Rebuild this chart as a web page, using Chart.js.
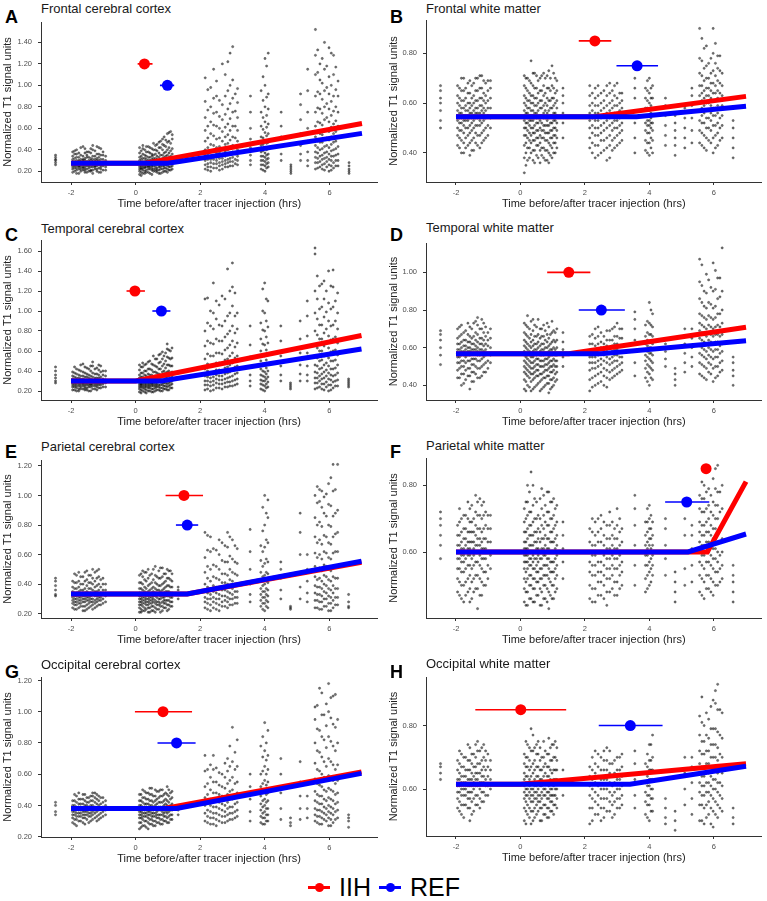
<!DOCTYPE html>
<html lang="en">
<head>
<meta charset="UTF-8">
<title>Normalized T1 signal before/after tracer injection</title>
<script src="https://cdn.jsdelivr.net/npm/chart.js@4.4.0/dist/chart.umd.min.js"></script>
<style>
  body { margin: 0; background: #fff; font-family: 'Liberation Sans', Arial, sans-serif; }
  #page { position: relative; width: 767px; height: 901px; overflow: hidden; }
  canvas { position: absolute; }
  .letter { position: absolute; font-weight: bold; font-size: 18px; line-height: 18px; color: #000; }
  .title { position: absolute; font-size: 13px; line-height: 13px; color: #1a1a1a; white-space: nowrap; }
  .legend-text { position: absolute; font-size: 25px; line-height: 25px; color: #000; }
  .key { position: absolute; width: 22px; height: 3px; }
  .key::after { content: ''; position: absolute; left: 6.5px; top: -3px; width: 9px; height: 9px; border-radius: 50%; background: inherit; }
</style>
</head>
<body>
<div id="page">
  <div class="key" style="left:308px; top:885.5px; background:#ff0000;"></div>
  <div class="legend-text" style="left:339px; top:875px;">IIH</div>
  <div class="key" style="left:379px; top:885.5px; background:#0000ff;"></div>
  <div class="legend-text" style="left:410px; top:875px;">REF</div>
</div>

<script>
// scan times (hrs), one column of values per time
const scanTimes = [-2.48,
  -1.95, -1.83, -1.70, -1.57, -1.45, -1.33, -1.20, -1.08, -0.93,
  0.12, 0.22, 0.33, 0.44, 0.55, 0.66, 0.77, 0.88, 0.98, 1.08, 1.32,
  2.15, 2.32, 2.50, 2.68, 2.85, 3.00, 3.15, 3.55,
  3.88, 4.00, 4.10, 4.50, 4.80, 5.10, 5.32,
  5.56, 5.70, 5.84, 5.98, 6.12, 6.26, 6.60];
// second set of scan times inside the busy sessions
const scanTimes2 = [-1.89, -1.76, -1.63, -1.51, -1.39, -1.26, -1.14, -1.01,
  0.17, 0.28, 0.39, 0.50, 0.61, 0.72, 0.83, 0.93, 1.03, 1.13,
  2.23, 2.41, 2.59, 2.77, 2.92, 3.08,
  3.94, 4.05,
  5.63, 5.77, 5.91, 6.05, 6.19];

// signal values per scan time, in hundredths of a T1 unit
const frontalCortexY = [
  [26,28,30,31,33,35],
  [19,22,24,26,27,29,31,34,38], [18,21,23,25,27,28,30,33,36,40], [20,22,24,26,27,29,31,35,42],
  [19,21,23,25,27,28,30,32,37,41], [20,23,25,26,28,30,33,38], [18,21,24,26,27,29,31,34,40,44],
  [20,22,25,27,28,30,32,36,43], [19,22,24,26,28,31,35,41], [21,24,27,30,34],
  [17,20,22,24,26,28,30,33,37,42], [18,21,23,25,27,29,32,36,41,44], [19,21,24,26,27,29,31,34,38,43],
  [18,22,24,26,28,30,33,37,42], [20,22,25,27,28,30,32,35,40,46], [19,21,23,26,28,31,34,39,45],
  [18,22,24,26,29,31,35,42,48], [20,23,25,27,30,33,37,44,52], [19,22,25,28,31,35,40,47,55],
  [21,24,27,30,34,39,46,57], [],
  [22,26,30,35,40,48,58,70,85,107], [20,24,28,31,34,38,45,55,66,80,98], [23,27,30,33,37,42,50,62,75,90,104],
  [22,26,29,32,36,41,48,57,68,82,120], [24,28,31,35,40,46,54,64,78,95,122], [25,29,33,38,44,52,62,75,88,105,136],
  [26,30,34,40,48,58,70,84,97], [26,30,35,42,50,60,75,90],
  [22,26,30,34,38,44,52,62,75,95], [20,25,29,33,37,42,48,56,66,80,100,125], [24,28,32,36,41,47,55,64,78,92,130],
  [30,36,44,52,62,75], [18,20,22,24,26], [30,36,44,55,68,82,92], [25,30,38,48,60,75,95,115],
  [22,28,33,38,44,52,62,75,90,110,128,152], [24,29,34,40,47,55,65,78,92,105,120], [21,27,32,37,43,50,58,68,80,95,115,140],
  [20,26,31,36,42,49,57,66,78,92,108,135], [23,28,34,40,47,55,64,76,90,110,128], [25,30,36,43,52,62,75,90,104],
  [18,20,22,25,28]];
const frontalCortexY2 = [
  [20,23,25,26,28,29,32,36,39], [18,22,24,25,27,29,30,33,37], [21,23,24,26,28,30,31,34,43], [19,22,25,26,27,29,33,35,38],
  [20,21,24,27,28,30,32,37,41], [22,24,25,27,29,31,34,39], [19,23,26,28,30,33,36,42], [21,25,28,31,35,38],
  [16,19,22,23,25,27,28,31,34,39], [18,20,23,24,26,28,29,32,35,40], [19,22,24,25,27,28,30,33,38,43],
  [17,21,23,25,26,28,31,34,36,41], [20,22,24,26,28,29,32,36,40,44], [18,21,24,26,27,30,33,37,42,47],
  [19,22,25,27,29,32,35,40,45,50], [20,23,26,28,31,34,38,43,49], [21,24,27,29,33,37,42,48,56], [22,25,28,32,36,41,50,54],
  [21,24,27,31,36,42,51,62,77,96], [23,27,31,34,39,44,53,63,74,88,115], [21,25,28,32,37,43,51,60,71,86],
  [24,27,30,34,38,45,52,61,73,90,110], [25,29,32,37,42,49,58,69,83,100,130], [27,31,36,43,51,62,76,92],
  [21,26,30,34,39,45,51,59,70,86,108], [23,27,31,35,40,46,53,61,72,89,118],
  [23,28,32,37,42,48,56,66,79,94,112,133], [22,26,31,35,41,47,54,63,74,87,102,125], [24,29,33,38,44,51,59,70,83,98,118],
  [21,25,30,34,39,45,52,61,72,85,100,130], [25,30,35,41,48,57,67,80,96,117]];

const frontalWhiteY = [
  [50,53,57,60,62,65,67],
  [43,47,50,53,55,57,60,63,67], [40,45,49,52,54,56,58,61,65,70], [42,46,50,53,55,57,59,62,66],
  [39,44,48,51,54,56,58,60,64,69], [41,46,50,53,55,57,60,63,68], [43,47,51,54,56,58,61,65,70],
  [44,48,52,55,57,59,62,66,71], [46,50,54,57,60,63,68], [50,54,58,62,66,69],
  [32,38,43,47,50,53,55,57,60,63,67,71], [37,42,46,49,52,54,56,58,61,65,70], [40,44,47,50,53,55,57,60,63,68,77],
  [36,41,45,48,51,54,56,59,62,66,72], [38,43,46,49,52,54,57,60,64,69], [39,42,46,49,52,55,58,61,65,71],
  [37,41,45,48,51,54,57,60,64,70], [36,40,44,48,51,54,57,61,66,73], [38,42,46,49,52,55,58,62,67,75],
  [40,44,47,50,53,56,60,64,70], [46,52,56,60,63,66],
  [42,46,50,53,56,59,63,67], [38,43,47,50,53,56,59,62,66], [40,45,48,51,54,57,60,64],
  [37,42,46,50,53,56,59,63,67], [41,45,49,52,55,58,61,65], [43,47,50,53,56,59,62,68],
  [45,49,52,55,58,61,64], [40,46,52,57,62,66,70],
  [41,45,49,52,55,58,62,66], [39,44,48,51,53,55,57,60,64,70], [40,45,49,52,55,58,62,67],
  [43,47,51,55,59,62], [39,43,46,49,52,55], [42,46,50,54,58], [44,49,54,59,63,66],
  [44,49,53,57,60,63,67,72,78,90], [42,47,52,56,59,62,65,69,74,82], [45,50,54,57,60,63,66,70,76],
  [40,46,51,55,58,61,64,68,73,80,90], [43,48,52,56,59,62,65,69,74,79], [46,51,55,59,63,67,72],
  [38,42,46,50,53]];
const frontalWhiteY2 = [
  [42,46,49,52,54,56,59,62,66], [40,44,48,51,53,55,58,61,65,70], [43,47,50,53,55,57,60,64,68], [41,45,49,52,54,56,59,62,67],
  [44,48,51,54,56,58,61,65,70], [42,47,51,53,56,59,62,66,71], [45,49,53,56,58,61,64,69], [47,51,55,58,61,65,69],
  [35,40,44,47,50,52,54,56,59,62,66,70], [38,42,45,48,51,53,55,58,61,64,69], [37,41,45,48,50,53,55,57,60,63,67,72],
  [39,43,46,49,52,54,56,59,62,66,71], [36,41,44,47,50,53,55,58,61,65,70], [38,42,46,49,51,54,56,59,63,67,72],
  [37,41,45,48,51,53,56,59,62,66,71], [39,43,46,49,52,55,58,61,65,70], [40,44,47,50,53,56,59,62,66,72], [42,46,49,52,55,58,61,65,69],
  [40,44,48,51,54,57,60,64], [39,43,47,50,53,56,59,63,67], [41,45,49,52,55,58,61,65],
  [38,43,47,51,54,57,60,64,68], [42,46,50,53,56,59,63,67], [44,48,51,54,57,60,64],
  [40,44,48,51,53,55,58,61,65,69], [42,46,50,52,54,56,59,62,66],
  [43,48,52,55,58,61,64,67,71,77,86], [41,46,50,54,57,60,63,66,70,75,83], [44,49,53,56,59,62,65,68,72,78],
  [42,47,51,55,58,61,64,67,71,76,84], [45,50,54,58,61,64,68,73,79]];

const temporalCortexY = [
  [28,30,33,36,40,44],
  [21,24,26,28,30,32,35,39], [20,23,25,27,29,31,33,37,42], [22,24,26,28,30,32,35,40,46],
  [21,23,25,27,29,31,34,38,44], [20,24,26,28,30,33,36,42], [22,25,27,29,31,34,38,45,49],
  [21,24,26,28,30,33,37,43], [23,26,28,31,34,39,45], [24,28,31,35,40],
  [19,22,24,26,28,30,33,36,41,46], [20,23,25,27,29,31,34,38,44,48], [18,21,24,26,28,30,32,35,40,47],
  [20,23,25,27,29,32,36,42,50], [19,22,25,27,29,31,34,39,46,55], [21,24,26,28,31,34,38,44,52],
  [20,23,26,29,32,36,42,49,57], [22,25,28,31,35,40,47,55], [21,24,27,30,34,39,46,54,62,67],
  [23,26,29,33,38,45,52,60], [],
  [21,26,30,35,42,52,65,80,112], [20,25,29,33,38,45,55,68,85,100], [23,28,32,36,41,48,58,72,92,110],
  [22,27,31,35,40,47,57,70,85,115], [24,29,33,38,44,52,63,77,95,142], [25,30,35,41,48,58,70,85,105,124,148],
  [27,32,38,45,55,68,82,98], [25,30,36,44,54,66,85],
  [22,27,31,36,42,50,60,72,88], [20,25,30,34,39,46,55,66,80,98,128], [24,29,34,40,47,56,68,84,110],
  [30,36,45,55,70,85], [22,24,26,28], [30,37,46,58,72,90], [30,36,45,58,75,95,110],
  [22,28,33,39,46,55,66,80,98,120,157,163], [24,30,35,42,50,60,72,86,102,125], [21,27,33,39,46,55,65,78,94,112,130],
  [20,26,32,38,45,53,63,75,90,108,140], [23,29,35,42,50,60,72,86,104,124,141], [25,31,38,46,56,68,82,98,118],
  [24,26,28,30,32]];
const temporalCortexY2 = [
  [21,24,26,28,29,31,34,38,44], [20,22,25,27,29,30,33,36,41], [22,25,27,28,30,32,35,39,47], [21,23,26,28,29,31,34,37,43],
  [20,24,26,27,29,32,35,40,45], [22,25,27,29,31,33,37,42], [23,26,28,30,33,36,41,46], [24,27,29,32,36,40],
  [18,21,24,26,27,29,31,34,38,44], [19,22,24,26,28,30,32,36,40,46], [20,23,25,27,29,31,33,37,42,49],
  [19,22,25,27,28,30,33,36,41,47], [20,23,25,27,30,32,35,39,45,52], [21,24,26,29,31,34,37,42,48,56],
  [20,23,26,28,31,35,39,45,52,59], [22,25,28,31,34,38,43,50,58], [21,25,28,31,35,40,46,53,61], [23,27,30,34,39,45,53,63],
  [22,26,30,34,40,47,57,70,88,113], [21,26,30,34,39,46,55,67,82,98,128], [23,27,31,35,41,48,58,70,86,106],
  [24,28,32,37,43,51,61,74,90,112], [25,29,34,39,46,55,66,80,98,120], [26,31,37,44,53,64,78,95,118],
  [21,26,30,35,40,47,56,67,81,100,122], [23,27,32,37,43,51,61,74,90,112],
  [23,28,33,38,45,53,63,76,92,112,135], [22,27,32,37,43,51,60,72,86,104,127], [24,29,35,41,48,57,68,82,99,120],
  [21,26,31,36,42,50,59,71,85,102,125], [25,30,36,43,51,61,74,90,110]];

const temporalWhiteY = [
  [51,56,60,64,67,69],
  [44,48,52,55,57,59,62,65,70], [40,46,50,53,56,58,60,63,67,72], [43,48,52,55,57,59,61,64,69],
  [38,45,49,53,56,58,60,63,66,71], [42,47,51,54,57,59,62,66,73], [44,49,53,56,58,60,63,67,72,76],
  [45,50,54,57,59,62,65,70,75], [47,52,56,59,62,66,71], [52,56,60,65,70],
  [38,43,47,50,53,56,58,61,64,68,73], [40,45,48,51,54,56,59,62,66,71,77], [37,42,46,49,52,55,57,60,63,67,74],
  [39,44,47,50,53,56,59,62,66,72], [41,45,48,51,54,57,60,63,67,75], [38,43,46,50,53,56,59,62,66,70],
  [40,44,48,51,54,57,60,64,69], [36,41,45,49,52,55,58,61,65,71], [39,43,47,50,53,56,59,63,68,74],
  [42,46,50,53,56,59,63,68], [50,55,59,63,68],
  [37,43,48,52,55,58,62,66], [40,45,49,52,55,58,61,65,70], [42,47,51,54,57,60,63,68],
  [39,44,48,52,55,58,61,64,69], [44,48,52,55,58,61,64,70], [46,50,53,56,59,62,66,73],
  [48,52,55,58,61,65,70], [45,52,58,64,70,75,79],
  [44,49,53,56,59,62,66,72], [40,46,50,54,57,60,63,67,73,84], [43,48,52,56,59,62,66,71,78],
  [50,54,58,62], [40,43,46,49], [47,52,57,62,66,70], [50,55,60,65,70],
  [46,52,57,61,65,69,73,78,86,95,107], [44,50,55,59,63,67,71,76,82,90], [47,52,56,60,64,68,72,77,84,96],
  [42,49,54,58,62,66,70,75,81,90,105], [45,50,55,59,63,67,72,78,86,97], [48,53,58,62,67,73,80,90,113],
  [40,45,48,52,55]];
const temporalWhiteY2 = [
  [44,49,52,55,57,59,62,66,71], [41,46,50,53,56,58,61,64,68], [45,49,53,56,58,60,63,67,73], [42,47,51,54,57,59,62,65,70],
  [46,50,54,57,59,61,64,68,74], [44,49,53,56,59,62,65,70], [47,51,55,58,61,64,68,73], [49,53,57,61,64,68],
  [37,42,46,49,52,55,57,60,63,67,72], [39,44,47,50,53,56,58,61,65,70], [38,43,46,49,52,55,58,61,64,69,75],
  [40,45,48,51,54,56,59,62,66,71], [37,42,46,50,53,56,58,61,65,70], [39,44,47,50,53,56,59,62,66,72],
  [41,45,48,51,54,57,60,63,67,73], [38,43,47,50,53,56,59,62,67], [40,44,48,51,54,57,60,64,69], [43,47,50,53,56,60,64,70],
  [39,44,49,52,55,58,62,67], [41,46,50,53,56,59,62,66,71], [40,45,49,53,56,59,62,66],
  [43,47,51,54,57,60,64,69], [45,49,53,56,59,62,66,71], [47,51,55,58,61,65,70],
  [42,47,51,55,58,61,64,68,74], [44,49,53,57,60,63,67,72,80],
  [45,51,56,60,64,68,72,77,84,93,104], [43,49,54,58,62,66,70,75,81,89,99], [46,51,55,59,63,67,71,76,83,92],
  [44,50,55,59,63,67,71,76,82,91,101], [47,52,57,61,66,71,78,87,97]];

const parietalCortexY = [
  [32,33,36,39,42,44],
  [24,27,29,31,33,35,38,42], [23,26,28,30,32,34,37,41,46], [25,27,29,31,33,36,40,45],
  [22,25,28,30,32,34,37,42,48], [24,27,29,31,34,37,41,46], [23,26,28,30,33,36,40,44,50],
  [25,28,30,32,35,39,44,49], [26,29,31,34,38,43], [28,32,36,40],
  [21,24,26,28,30,32,34,37,41,46], [22,25,27,29,31,33,36,40,45,49], [23,26,28,30,32,34,37,42,48],
  [21,24,27,29,31,33,36,40,46], [22,25,28,30,32,35,38,43,50], [23,26,28,31,33,36,40,45],
  [21,25,27,30,32,35,39,44,51], [24,27,29,31,34,37,41,47], [22,26,29,32,35,39,44,50],
  [25,28,31,34,38,43,49], [30,33,36,38],
  [24,28,31,35,40,48,58,75], [22,26,30,33,37,42,50,62,72], [23,27,30,34,38,44,52,63],
  [25,28,32,36,41,47,56,68], [24,28,31,35,40,46,55,65,75], [26,30,33,37,42,48,57,70],
  [27,31,35,40,46,54,64], [28,33,40,50,62,77],
  [25,29,33,37,42,48,56,66], [22,27,31,35,40,46,54,65,80,100], [24,28,32,36,41,47,55,68,85,97],
  [30,36,44,50,55], [23,24,25], [30,38,48,60,75,88], [28,34,42,50,60],
  [24,29,34,39,45,52,61,72,85,100], [23,28,33,38,44,51,60,70,82,96,104], [25,30,35,40,46,53,62,73,88,99],
  [22,27,32,37,43,50,58,68,80,94,108], [24,29,34,39,45,52,61,72,86,103,121], [26,31,37,44,52,62,75,90,121],
  [24,25,28,33]];
const parietalCortexY2 = [
  [23,26,28,30,32,34,37,41,47], [24,27,29,31,33,35,38,42,48], [22,25,28,30,32,34,36,40,45], [23,26,29,31,33,35,39,43,49],
  [25,28,30,32,34,37,41,46], [24,27,29,32,35,38,42,48], [26,29,31,33,36,40,45,50], [27,30,33,36,40,44],
  [21,23,26,28,30,32,34,37,41,47], [22,24,27,29,31,33,35,38,43,48], [21,24,26,28,30,32,35,39,44,50],
  [22,25,27,29,31,34,37,41,47], [21,24,27,29,32,34,37,41,46,52], [23,26,28,30,33,36,39,44,49],
  [22,25,28,31,33,36,40,45,51], [24,27,29,32,35,38,42,47], [23,26,29,32,35,39,44,49], [25,28,31,34,38,42,47],
  [23,27,30,34,38,44,52,63,73], [24,28,31,35,39,45,53,64], [22,26,30,33,37,43,50,60,70],
  [25,29,32,36,41,47,55,66], [26,30,34,38,43,50,59,72], [27,31,35,40,47,55,66],
  [23,27,31,35,39,45,52,62,76,92], [25,29,33,37,42,48,57,70,88],
  [24,29,33,38,43,50,58,68,80,95,106], [23,28,32,37,42,49,57,67,79,92,103], [25,30,34,39,45,52,61,72,86,101],
  [22,27,31,36,42,49,57,67,79,93,112], [26,31,37,44,52,62,74,88,104]];

const parietalWhiteY = [
  [58,62,65,68,70,72],
  [48,52,55,58,60,62,65,68], [46,50,54,57,59,61,63,66,70], [47,51,55,58,60,62,64,67,71],
  [45,49,53,56,59,61,63,66,69,73], [48,52,56,59,61,63,66,70], [43,49,53,57,60,62,64,67,71,75],
  [47,51,55,58,61,63,66,70,74], [50,54,58,61,64,68,72], [55,59,63,67,71],
  [45,49,52,55,57,59,61,63,66,69,73], [44,48,52,55,57,59,61,64,67,71,75,80], [46,50,53,56,58,60,62,65,68,72,84],
  [45,49,52,55,58,60,63,66,70,76], [47,51,54,57,59,61,64,67,71], [44,48,52,55,58,61,64,68,73,79],
  [46,50,53,56,59,62,65,69,74], [43,48,52,55,58,61,64,68,72,78], [46,50,54,57,60,63,66,70,75],
  [48,52,55,58,61,64,68,73], [52,57,61,65,69],
  [46,50,54,57,60,63,67], [45,49,53,56,59,62,65,69], [47,51,54,57,60,63,67,71],
  [44,48,52,55,58,61,64,68], [49,53,56,59,62,65,69], [47,51,55,58,61,64,68,73],
  [50,54,57,60,63,67], [50,56,62,68,73,77],
  [48,52,56,59,62,65,69], [50,54,57,60,62,64,67,70,74], [53,56,59,62,65,69],
  [53,58,62,67,70], [45,48,51,54], [50,55,60,65,70], [51,56,61,65,68],
  [48,53,57,60,63,66,69,73,77], [46,51,55,59,62,65,68,72,76,80], [49,53,57,60,63,66,70,74,79],
  [47,51,55,58,61,64,67,71,75,82], [50,54,57,60,63,66,70,74,78,86], [52,56,60,64,68,73,80],
  [45,48,51,53,56]];
const parietalWhiteY2 = [
  [47,51,55,58,60,62,65,69,73], [45,50,54,57,59,61,64,67,71], [48,52,56,59,61,63,66,70,75], [46,51,55,58,60,63,66,69,74],
  [49,53,57,60,62,65,68,72,77], [47,52,56,59,62,64,67,71,76], [50,54,58,61,64,67,71,75], [52,56,60,63,67,71],
  [44,48,51,54,57,59,61,63,66,70,75], [46,50,53,56,58,60,62,65,68,72,78], [45,49,52,55,57,59,62,65,69,74,80],
  [47,51,54,56,58,61,63,66,70,75], [44,49,52,55,58,60,63,66,70,76], [46,50,53,56,59,61,64,67,71,77],
  [45,49,53,56,58,61,64,68,72,78], [47,51,54,57,60,63,66,70,75], [46,50,54,57,60,63,67,71,76], [49,53,56,59,62,65,69,74],
  [45,49,53,56,59,62,66,70], [47,51,54,57,60,63,66,70], [46,50,53,56,59,62,65,69],
  [48,52,55,58,61,64,68,72], [47,51,55,58,61,64,67], [49,53,56,59,62,66,70],
  [49,53,56,59,61,63,66,69,73], [51,55,58,61,64,67,71],
  [47,52,56,59,62,65,68,72,76,81], [49,53,57,60,63,66,69,73,78,84], [48,52,56,59,62,65,68,72,77],
  [50,54,58,61,64,67,70,74,79,85], [51,55,59,63,67,72,78]];

const occipitalCortexY = [
  [34,36,40,42],
  [29,32,34,36,38,40,43], [27,31,33,35,37,39,42,46], [30,33,35,37,39,41,44],
  [28,32,34,36,38,40,43,47], [29,33,35,37,39,42,45], [31,34,36,38,40,43,46,48],
  [30,33,36,38,41,44,47], [32,35,38,41,45], [34,37,40,43],
  [25,29,32,34,36,38,40,43,47], [27,31,33,35,37,39,42,45,50], [26,30,33,35,37,39,41,44,48],
  [28,31,34,36,38,40,43,47,51], [27,30,33,35,37,39,42,46], [29,32,34,36,38,41,44,49],
  [28,31,34,37,39,42,46,50], [30,33,35,38,40,43,47], [29,32,35,37,40,43,47,52],
  [31,34,37,40,44,48], [34,37,40],
  [30,35,40,45,52,62,72], [28,32,36,40,44,50,58,66], [27,31,35,39,43,48,55,64],
  [29,33,37,41,46,52,60], [30,34,38,42,47,54,62,70], [31,35,39,44,50,58,68,90],
  [33,37,42,48,55,65,82], [30,36,44,52,60],
  [29,33,37,41,46,52,60,78], [28,32,36,40,44,49,56,65,75,93], [30,34,38,43,48,55,63,72,88],
  [31,38,48,60,70], [27,29,32], [31,38,46,55,68], [32,38,46,55],
  [30,34,38,43,49,57,67,80,95,103], [28,33,37,41,46,53,62,74,88,115], [31,35,39,44,50,58,68,82,98],
  [27,32,36,40,45,51,59,70,84,100,118], [29,34,38,43,49,56,66,78,92,110], [32,37,42,48,56,66,80,95],
  [26,30,32,34]];
const occipitalCortexY2 = [
  [28,31,34,36,38,40,43,47], [30,33,35,37,39,41,44,48], [29,32,34,36,38,41,44,47], [31,34,36,38,40,42,45],
  [30,33,35,37,40,43,46], [32,35,37,39,42,45,48], [31,34,37,40,43,46], [33,36,39,42,45],
  [26,29,32,34,36,38,40,43,47], [27,30,33,35,37,39,41,45,49], [25,29,32,34,36,38,41,44,48],
  [28,31,33,35,37,40,43,47,51], [27,30,33,35,38,40,43,46,50], [29,32,34,37,39,42,45,49],
  [28,31,34,36,39,42,46,50], [30,33,36,38,41,44,48], [29,33,36,39,42,46,50], [31,34,37,41,45,49],
  [29,33,37,42,47,54,63], [28,32,35,39,43,48,55,63,72], [30,34,38,42,47,53,61],
  [29,33,36,40,45,51,58,67], [31,35,39,44,49,56,65,78], [32,36,41,47,54,63,74],
  [28,32,35,39,43,48,54,62,71,84], [30,34,38,42,47,53,60,69,80],
  [29,33,37,42,47,54,63,75,89,104], [28,32,36,41,46,52,60,71,84,98,112], [30,34,38,43,49,56,65,77,91,105],
  [27,31,35,39,44,50,58,68,81,96,109], [31,36,41,47,54,63,75,90,111]];

const occipitalWhiteY = [
  [63,65,67,68],
  [54,57,59,61,63,66,69], [52,55,58,60,62,64,67,71], [55,58,60,62,64,66,70],
  [50,54,57,59,61,63,66,69,73], [53,57,60,62,64,67,71], [55,58,61,63,65,68,72,75],
  [56,59,62,64,66,69,73], [58,61,63,66,69,72], [60,63,66,69],
  [50,54,57,59,61,63,65,68,71], [52,55,58,60,62,64,67,70,74], [49,53,56,58,60,62,64,67,72,79],
  [51,54,57,59,61,63,66,69,73], [53,56,58,60,62,64,67,71,75], [50,54,57,59,61,63,66,70],
  [52,55,58,60,62,65,68,72], [51,54,57,59,61,64,67,71,76], [53,56,58,60,62,65,69,74],
  [55,58,60,63,66,70,75], [58,62,66],
  [49,54,58,61,64,67], [52,56,59,62,65,68,72], [50,54,57,60,63,66,70],
  [53,57,60,63,66,69,73], [51,55,58,61,64,68], [54,57,60,63,66,70],
  [55,58,61,64,67,71], [54,58,63,68,72],
  [52,56,59,62,65,68], [50,55,58,61,63,66,69,74], [53,57,60,63,66,70,77],
  [49,51,54,57], [47,50,53], [55,60,65,70], [52,57,62,67,70],
  [50,55,59,62,65,68,72,77,83], [49,54,58,61,64,67,71,75,80], [52,56,59,62,65,68,72,76,82],
  [48,53,57,60,63,66,70,74,79,88], [51,55,59,62,65,69,73,78,85,93], [53,57,61,65,70,76,84],
  [49,51,54]];
const occipitalWhiteY2 = [
  [53,56,59,61,63,65,68,72], [51,55,58,60,62,64,67,70], [54,57,59,61,63,66,69,74], [52,56,59,61,63,65,68,71],
  [55,58,61,63,65,67,70,74], [54,57,60,62,65,68,72], [56,59,62,64,67,70,74], [58,61,64,67,71],
  [49,53,56,58,60,62,64,67,70,75], [51,54,57,59,61,63,66,69,73], [50,53,56,58,60,62,65,68,72,77],
  [52,55,57,59,61,64,67,71,74], [50,54,56,58,61,63,66,69,73], [52,55,58,60,62,64,67,70,75],
  [51,54,57,59,62,64,67,71], [53,56,58,60,63,66,69,73], [52,55,58,61,63,66,70,74], [54,57,60,63,66,69,73],
  [50,54,57,60,63,66,70], [52,55,58,61,64,67,71], [51,54,57,60,63,66,69,72],
  [53,56,59,62,65,68,72], [52,56,59,62,65,69], [54,57,60,63,66,70],
  [51,55,58,61,64,67,71], [53,57,60,63,66,69,74],
  [50,55,58,61,64,67,71,75,81,89], [51,55,59,62,65,68,72,77,84], [49,54,58,61,64,67,70,74,79,86],
  [52,56,60,63,66,70,74,79,87,91], [54,58,62,66,71,77,85]];

const regionY = [frontalCortexY, frontalWhiteY, temporalCortexY, temporalWhiteY,
  parietalCortexY, parietalWhiteY, occipitalCortexY, occipitalWhiteY];
const regionY2 = [frontalCortexY2, frontalWhiteY2, temporalCortexY2, temporalWhiteY2,
  parietalCortexY2, parietalWhiteY2, occipitalCortexY2, occipitalWhiteY2];

const panelLetters = ['A', 'B', 'C', 'D', 'E', 'F', 'G', 'H'];
const panelTitles = ['Frontal cerebral cortex', 'Frontal white matter',
  'Temporal cerebral cortex', 'Temporal white matter',
  'Parietal cerebral cortex', 'Parietal white matter',
  'Occipital cerebral cortex', 'Occipital white matter'];

// fitted broken-stick lines: x of start, breakpoint, end and their y values
const iihFitX = [[-2, 0.3, 7], [-2, 2.3, 7], [-2, 0.0, 7], [-2, 1.5, 7], [-2, 1.6, 7], [-2, 5.8, 7], [-2, 0.9, 7], [-2, 0.0, 7]];
const iihFitY = [[0.275, 0.275, 0.645], [0.545, 0.545, 0.627], [0.30, 0.30, 0.755], [0.568, 0.568, 0.708],
  [0.333, 0.333, 0.548], [0.60, 0.60, 0.811], [0.38, 0.38, 0.615], [0.615, 0.615, 0.68]];
const refFitX = [[-2, 1.0, 7], [-2, 3.6, 7], [-2, 0.8, 7], [-2, 2.5, 7], [-2, 1.6, 7], [-2, 5.2, 7], [-2, 1.27, 7], [-2, 3.4, 7]];
const refFitY = [[0.275, 0.275, 0.553], [0.545, 0.545, 0.587], [0.30, 0.30, 0.62], [0.568, 0.568, 0.637],
  [0.333, 0.333, 0.555], [0.60, 0.60, 0.654], [0.38, 0.38, 0.605], [0.615, 0.615, 0.672]];

// breakpoint estimates with confidence interval (plotted at a fixed height)
const iihBreakX  = [0.27, 2.31, -0.02, 1.50, 1.50, 5.76, 0.85, 0.01];
const iihBreakLo = [0.06, 1.81, -0.28, 0.83, 0.93, 5.70, -0.02, -1.40];
const iihBreakHi = [0.52, 2.82, 0.29, 2.17, 2.09, 5.82, 1.75, 1.42];
const iihBreakY  = [1.20, 0.85, 1.20, 1.00, 1.00, 0.85, 1.00, 0.85];
const refBreakX  = [0.98, 3.62, 0.80, 2.51, 1.60, 5.16, 1.27, 3.41];
const refBreakLo = [0.75, 2.98, 0.52, 1.81, 1.25, 4.49, 0.68, 2.43];
const refBreakHi = [1.19, 4.27, 1.08, 3.24, 1.94, 5.86, 1.86, 4.41];
const refBreakY  = [1.00, 0.75, 1.00, 0.80, 0.80, 0.75, 0.80, 0.80];

const xTicks = [-2, 0, 2, 4, 6];
const yMin = [0.10, 0.283, 0.11, 0.322, 0.171, 0.402, 0.198, 0.452];
const yMax = [1.59, 0.934, 1.71, 1.156, 1.24, 0.882, 1.222, 0.953];
const yTicks = [[0.2, 0.4, 0.6, 0.8, 1.0, 1.2, 1.4], [0.4, 0.6, 0.8],
  [0.2, 0.4, 0.6, 0.8, 1.0, 1.2, 1.4, 1.6], [0.4, 0.6, 0.8, 1.0],
  [0.2, 0.4, 0.6, 0.8, 1.0, 1.2], [0.6, 0.8],
  [0.2, 0.4, 0.6, 0.8, 1.0, 1.2], [0.6, 0.8]];

// page layout (px)
const cellX = [0, 383, 0, 383, 0, 383, 0, 383];
const cellY = [0, 0, 215, 215, 430, 430, 645, 645];
const plotL = [41, 43, 41, 43, 41, 43, 41, 43];
const plotR = [378, 380, 377, 380, 377, 380, 377, 380];
const plotT = [22, 20, 25, 28, 30, 28, 32, 32];
const plotB = [182, 182, 185, 185, 188, 188, 192, 191];
const letterTop = [8, 8, 226, 226, 443, 443, 663, 663];
const titleTop = [2, 2, 222, 221, 440, 439, 658, 657];

const RED = '#ff0000', BLUE = '#0000ff', INK = '#333333';
Chart.defaults.font.family = "'Liberation Sans', Arial, sans-serif";

const page = document.getElementById('page');

function seg(xs, ys) {
  return xs.map((x, i) => ({ x: x, y: ys[i] }));
}

function addColumns(out, times, cols) {
  times.forEach((t, i) => {
    cols[i].forEach(v => out.push({ x: t, y: v / 100 }));
  });
}

for (let p = 0; p < 8; p++) {
  const left = cellX[p] === 0;
  const cellW = left ? 383 : 384;
  const H = plotB[p] + 30;

  const letter = document.createElement('div');
  letter.className = 'letter';
  letter.textContent = panelLetters[p];
  letter.style.left = (cellX[p] + (left ? 5 : 7)) + 'px';
  letter.style.top = letterTop[p] + 'px';
  page.appendChild(letter);

  const title = document.createElement('div');
  title.className = 'title';
  title.textContent = panelTitles[p];
  title.style.left = (cellX[p] + plotL[p]) + 'px';
  title.style.top = titleTop[p] + 'px';
  page.appendChild(title);

  const cv = document.createElement('canvas');
  cv.width = cellW;
  cv.height = H;
  cv.style.left = cellX[p] + 'px';
  cv.style.top = cellY[p] + 'px';
  page.appendChild(cv);

  const points = [];
  addColumns(points, scanTimes, regionY[p]);
  addColumns(points, scanTimes2, regionY2[p]);

  const line = (data, color, width, order) => ({
    data: data, showLine: true, borderColor: color, borderWidth: width,
    pointRadius: 0, borderCapStyle: 'butt', order: order
  });

  new Chart(cv, {
    type: 'scatter',
    data: {
      datasets: [
        { data: points, pointRadius: 1.15, backgroundColor: 'rgba(0,0,0,0.55)',
          borderColor: 'rgba(0,0,0,0.7)', borderWidth: 0.4, order: 6 },
        line(seg(iihFitX[p], iihFitY[p]), RED, 5, 5),
        line(seg(refFitX[p], refFitY[p]), BLUE, 5, 4),
        line([{ x: iihBreakLo[p], y: iihBreakY[p] }, { x: iihBreakHi[p], y: iihBreakY[p] }], RED, 1.6, 3),
        line([{ x: refBreakLo[p], y: refBreakY[p] }, { x: refBreakHi[p], y: refBreakY[p] }], BLUE, 1.6, 3),
        { data: [{ x: iihBreakX[p], y: iihBreakY[p] }], pointRadius: 5.5, backgroundColor: RED, borderWidth: 0, order: 1 },
        { data: [{ x: refBreakX[p], y: refBreakY[p] }], pointRadius: 5.5, backgroundColor: BLUE, borderWidth: 0, order: 1 }
      ]
    },
    options: {
      responsive: false,
      animation: false,
      events: [],
      layout: { padding: { top: plotT[p], right: cellW - plotR[p], left: 0, bottom: 0 } },
      plugins: { legend: { display: false }, tooltip: { enabled: false } },
      scales: {
        x: {
          type: 'linear', min: -2.93, max: 7.48,
          afterBuildTicks: s => { s.ticks = xTicks.map(v => ({ value: v })); },
          afterFit: s => { s.height = 30; },
          ticks: { font: { size: 7.5 }, color: '#4d4d4d', padding: 3, maxRotation: 0, callback: v => String(v) },
          title: { display: true, text: 'Time before/after tracer injection (hrs)', font: { size: 11 }, color: '#222', padding: { top: 0, bottom: 1 } },
          grid: { display: true, drawOnChartArea: false, drawTicks: true, tickLength: 3, color: INK },
          border: { display: true, color: INK, width: 1 }
        },
        y: {
          type: 'linear', min: yMin[p], max: yMax[p],
          afterBuildTicks: s => { s.ticks = yTicks[p].map(v => ({ value: v })); },
          afterFit: s => { s.width = plotL[p]; },
          ticks: { font: { size: 7.5 }, color: '#4d4d4d', padding: 6, callback: v => v.toFixed(2) },
          title: { display: true, text: 'Normalized T1 signal units', font: { size: 11 }, color: '#222', padding: { top: left ? 1 : 4, bottom: 0 } },
          grid: { display: true, drawOnChartArea: false, drawTicks: true, tickLength: 3, color: INK },
          border: { display: true, color: INK, width: 1 }
        }
      }
    }
  });
}
</script>
</body>
</html>
